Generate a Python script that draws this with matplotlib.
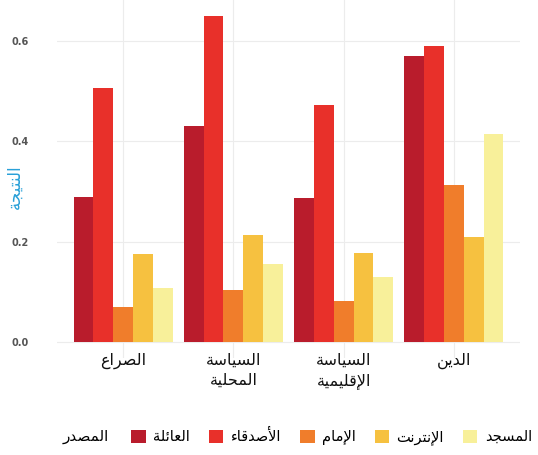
import numpy as np
import matplotlib
matplotlib.use('Agg')
import matplotlib.pyplot as plt
from matplotlib.patches import Patch

# data
topics = ["الصراع", "السياسة\nالمحلية", "السياسة\nالإقليمية", "الدين"]
sources = ["العائلة", "الأصدقاء", "الإمام", "الإنترنت", "المسجد"]
family = [0.289, 0.431, 0.287, 0.571]
friends = [0.507, 0.650, 0.473, 0.591]
imam = [0.070, 0.104, 0.082, 0.313]
internet = [0.176, 0.214, 0.178, 0.210]
mosque = [0.108, 0.156, 0.130, 0.415]
series = [family, friends, imam, internet, mosque]
colors = ["#b91c2c", "#e8302a", "#f07d2b", "#f6c140", "#f8f09a"]
y_ticks = [0.0, 0.2, 0.4, 0.6]

# minimal arabic shaping (matplotlib has no complex text layout)
FORMS = {
    'ء': ('\ufe80', None, None, None),
    'أ': ('\ufe83', '\ufe84', None, None),
    'إ': ('\ufe87', '\ufe88', None, None),
    'ئ': ('\ufe89', '\ufe8a', '\ufe8b', '\ufe8c'),
    'ا': ('\ufe8d', '\ufe8e', None, None),
    'ب': ('\ufe8f', '\ufe90', '\ufe91', '\ufe92'),
    'ة': ('\ufe93', '\ufe94', None, None),
    'ت': ('\ufe95', '\ufe96', '\ufe97', '\ufe98'),
    'ج': ('\ufe9d', '\ufe9e', '\ufe9f', '\ufea0'),
    'ح': ('\ufea1', '\ufea2', '\ufea3', '\ufea4'),
    'د': ('\ufea9', '\ufeaa', None, None),
    'ر': ('\ufead', '\ufeae', None, None),
    'س': ('\ufeb1', '\ufeb2', '\ufeb3', '\ufeb4'),
    'ص': ('\ufeb9', '\ufeba', '\ufebb', '\ufebc'),
    'ع': ('\ufec9', '\ufeca', '\ufecb', '\ufecc'),
    'ق': ('\ufed5', '\ufed6', '\ufed7', '\ufed8'),
    'ل': ('\ufedd', '\ufede', '\ufedf', '\ufee0'),
    'م': ('\ufee1', '\ufee2', '\ufee3', '\ufee4'),
    'ن': ('\ufee5', '\ufee6', '\ufee7', '\ufee8'),
    'ي': ('\ufef1', '\ufef2', '\ufef3', '\ufef4'),
}
LAM_ALEF = {'أ': ('\ufef7', '\ufef8'), 'إ': ('\ufef9', '\ufefa'), 'ا': ('\ufefb', '\ufefc')}


def dual(c):
    return c in FORMS and FORMS[c][2] is not None


def joins(c):
    return c in FORMS and FORMS[c][1] is not None


def shape_line(s):
    out = []
    i = 0
    while i < len(s):
        c = s[i]
        prev = i > 0 and dual(s[i - 1])
        if c == 'ل' and i + 1 < len(s) and s[i + 1] in LAM_ALEF:
            out.append(LAM_ALEF[s[i + 1]][1 if prev else 0])
            i += 2
            continue
        if c not in FORMS:
            out.append(c)
            i += 1
            continue
        nxt = dual(c) and i + 1 < len(s) and joins(s[i + 1])
        iso, fin, ini, med = FORMS[c]
        if prev and nxt:
            out.append(med)
        elif prev:
            out.append(fin)
        elif nxt:
            out.append(ini)
        else:
            out.append(iso)
        i += 1
    return ''.join(out)[::-1]


def ar(s):
    return '\n'.join(shape_line(line) for line in s.split('\n'))


plt.rcParams['font.family'] = ['DejaVu Sans']

fig = plt.figure(figsize=(5.38, 4.55), dpi=100)
ax = fig.add_axes([57 / 538, 97 / 455, 463 / 538, 358 / 455])

x = np.arange(1, len(topics) + 1)
w = 0.9 / len(series)
for j, (vals, col) in enumerate(zip(series, colors)):
    ax.bar(x + (j - 2) * w, vals, width=w, color=col, zorder=2)

ax.set_xlim(0.4, 4.6)
ax.set_ylim(-0.0325, 0.6825)
ax.set_yticks(y_ticks)
ax.set_yticklabels([f"{v:.1f}" for v in y_ticks])
ax.set_xticks(x)
ax.set_xticklabels([ar(t) for t in topics], fontsize=11.5, linespacing=1.45)
ax.tick_params(axis='y', length=0, pad=20, labelsize=7, labelcolor='#555555')
ax.tick_params(axis='x', length=0, pad=-4, labelcolor='#111111')
for lab in ax.get_yticklabels():
    lab.set_fontweight('bold')
ax.grid(True, color='#ececec', linewidth=0.8, zorder=0)
for sp in ax.spines.values():
    sp.set_visible(False)

ax.set_ylabel(ar("النتيجة"), color='#29a0d8', fontsize=12)
ax.yaxis.set_label_coords(-0.073, 0.478)

handles = [Patch(facecolor=c) for c in colors]
fig.legend(handles, [ar(s) for s in sources], ncol=5, frameon=False,
           loc='center left', bbox_to_anchor=(124 / 538, 18 / 455),
           fontsize=10.5, handlelength=1.0, handleheight=1.0,
           handletextpad=0.5, columnspacing=1.3, borderpad=0)
fig.text(63 / 538, 18 / 455, ar("المصدر"), fontsize=11, va='center', ha='left')

fig.savefig('out.png', dpi=100)
